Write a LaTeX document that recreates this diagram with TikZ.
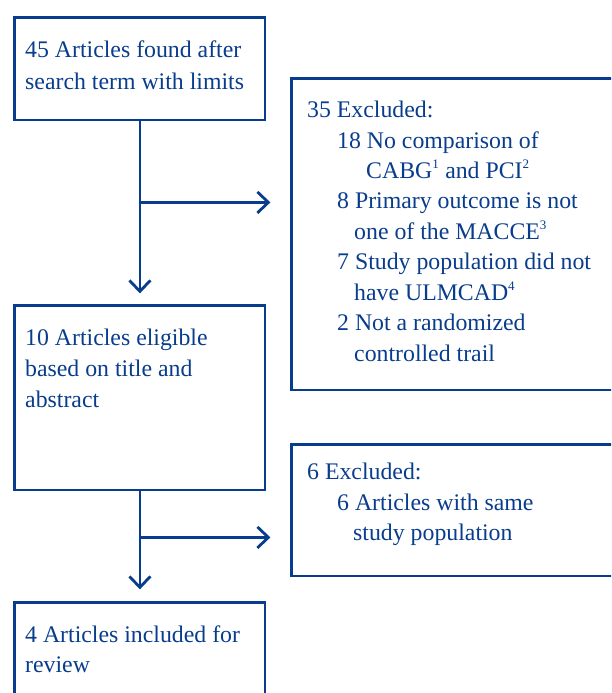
\documentclass[tikz,border=0pt]{standalone}
\usepackage{fontspec}
\setmainfont{Liberation Serif}
\usetikzlibrary{arrows.meta}
\definecolor{navy}{RGB}{8,60,140}
\tikzset{
  boxst/.style={draw=navy, line width=2.8pt, rectangle, inner sep=0pt, anchor=north west},
  txt/.style={anchor=base west, inner sep=0pt, text=navy, font=\fontsize{23.8}{31}\selectfont},
  arr/.style={draw=navy, line width=2.8pt, -{Straight Barb[length=11pt,width=21pt,line width=2.8pt]}},
  ln/.style={draw=navy, line width=2.8pt}
}
\newcommand{\sps}[1]{\textsuperscript{\fontsize{13}{13}\selectfont #1}}
\begin{document}
\begin{tikzpicture}[x=1pt,y=-1pt]
\useasboundingbox (0,0) rectangle (611,693);
\clip (0,0) rectangle (611,693);
% boxes
\node[boxst, minimum width=250.2, minimum height=102.2] (b1) at (13.4,16.4) {};
\node[boxst, minimum width=360, minimum height=311.2] (b2) at (290.4,77.4) {};
\node[boxst, minimum width=250.2, minimum height=184.2] (b3) at (13.4,304.4) {};
\node[boxst, minimum width=360, minimum height=131.2] (b4) at (290.4,443.4) {};
\node[boxst, minimum width=250.2, minimum height=140] (b5) at (13.4,601.4) {};
% texts
\node[txt] (t1a) at (25,58) {45 Articles found after};
\node[txt] (t1b) at (25,89) {search term with limits};
\node[txt] (t2a) at (307,117) {35 Excluded:};
\node[txt] (t2b) at (337,148) {18 No comparison of};
\node[txt] (t2c) at (366,178) {CABG\sps{1} and PCI\sps{2}};
\node[txt] (t2d) at (337,208) {8 Primary outcome is not};
\node[txt] (t2e) at (354,239) {one of the MACCE\sps{3}};
\node[txt] (t2f) at (337,269) {7 Study population did not};
\node[txt] (t2g) at (354,300) {have ULMCAD\sps{4}};
\node[txt] (t2h) at (337,330) {2 Not a randomized};
\node[txt] (t2i) at (354,361) {controlled trail};
\node[txt] (t3a) at (25,345) {10 Articles eligible};
\node[txt] (t3b) at (25,376) {based on title and};
\node[txt] (t3c) at (25,407) {abstract};
\node[txt] (t4a) at (307,479) {6 Excluded:};
\node[txt] (t4b) at (337,510) {6 Articles with same};
\node[txt] (t4c) at (353,540) {study population};
\node[txt] (t5a) at (25,642) {4 Articles included for};
\node[txt] (t5b) at (25,672) {review};
% connectors
\coordinate (j1) at ([yshift=-81pt]b1.south);
\coordinate (j2) at ([yshift=-46pt]b3.south);
\draw[arr] (b1.south) -- ([yshift=11pt]b3.north);
\draw[arr] (j1) -- ([xshift=-20pt]b2.west |- j1);
\draw[arr] (b3.south) -- ([yshift=12pt]b5.north);
\draw[arr] (j2) -- ([xshift=-20pt]b4.west |- j2);
\end{tikzpicture}
\end{document}
